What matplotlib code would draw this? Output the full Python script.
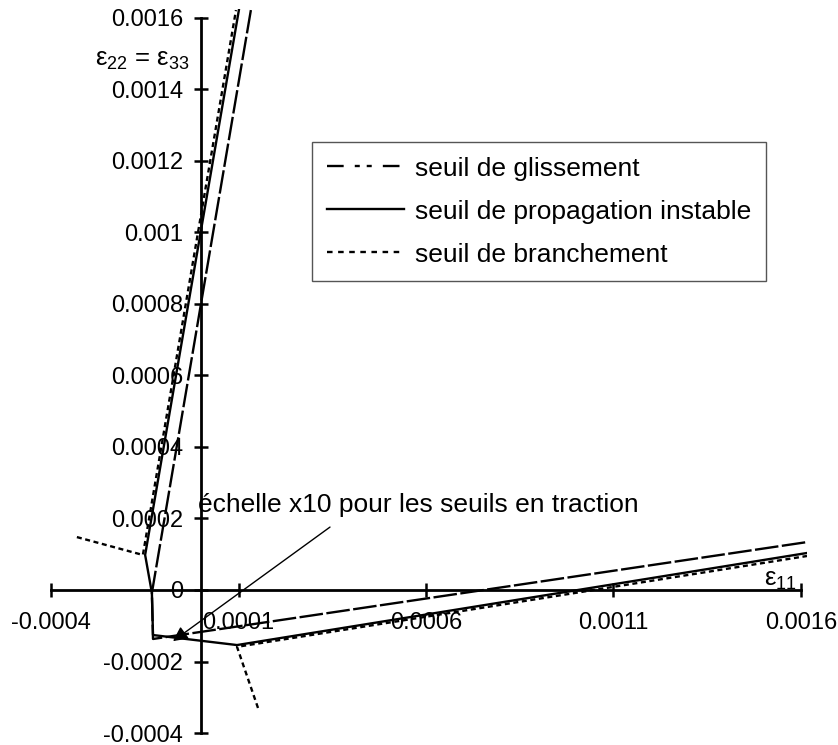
import numpy as np
import matplotlib
matplotlib.use("Agg")
import matplotlib.pyplot as plt
from matplotlib.lines import Line2D

# seuil de propagation instable (trait plein)
prop_x = [0.000101, -0.000149, -0.000131, -0.000128, 0.000096, 0.001616]
prop_y = [0.001622, 0.000098, -0.000008, -0.000126, -0.000154, 0.0001035]

# seuil de branchement (pointillés), deux morceaux séparés par nan
bran_x = [-0.000331, -0.000155, 0.0000933, np.nan, 0.000152, 0.000096, 0.001616]
bran_y = [0.000148, 0.000098, 0.001622, np.nan, -0.00033, -0.000159, 0.0000951]

# seuil de glissement
gliss_x = [0.000133, -0.000131, -0.000128, 0.001616]
gliss_y = [0.001622, -0.000008, -0.000137, 0.000134]

x_ticks = [-0.0004, 0.0001, 0.0006, 0.0011, 0.0016]
x_labels = ["-0.0004", "0.0001", "0.0006", "0.0011", "0.0016"]
y_ticks = [-0.0004, -0.0002, 0, 0.0002, 0.0004, 0.0006, 0.0008, 0.001, 0.0012, 0.0014, 0.0016]
y_labels = ["-0.0004", "-0.0002", "0", "0.0002", "0.0004", "0.0006", "0.0008",
            "0.001", "0.0012", "0.0014", "0.0016"]

series_names = ["seuil de glissement", "seuil de propagation instable", "seuil de branchement"]

plt.rcParams["font.family"] = ["Liberation Sans", "DejaVu Sans"]
plt.rcParams["mathtext.fontset"] = "custom"
plt.rcParams["mathtext.rm"] = "Liberation Sans"
plt.rcParams["mathtext.default"] = "regular"
plt.rcParams["lines.scale_dashes"] = False

fig = plt.figure(figsize=(8.38, 7.45), dpi=100)
ax = fig.add_axes([0.0564, 0.0113, 0.9066, 0.9766])

lw = 1.7
ax.plot(gliss_x, gliss_y, color="black", lw=lw, dashes=(17, 2.5), solid_capstyle="butt")
ax.plot(prop_x, prop_y, color="black", lw=lw)
ax.plot(bran_x, bran_y, color="black", lw=lw, dashes=(3.6, 2.6))

ax.set_xlim(-0.00041, 0.001616)
ax.set_ylim(-0.00041, 0.001625)

# axes qui se croisent en (0, 0)
for side in ["top", "right"]:
    ax.spines[side].set_visible(False)
ax.spines["left"].set_position(("data", 0))
ax.spines["bottom"].set_position(("data", 0))
ax.spines["left"].set_bounds(-0.0004, 0.0016)
ax.spines["bottom"].set_bounds(-0.0004, 0.0016)
ax.spines["left"].set_linewidth(2)
ax.spines["bottom"].set_linewidth(2)

ax.set_xticks(x_ticks)
ax.set_xticklabels(x_labels)
ax.set_yticks(y_ticks)
ax.set_yticklabels(y_labels)
ax.tick_params(direction="inout", length=10, width=1.8, labelsize=17, pad=8)
ax.tick_params(axis="x", pad=11)

ax.text(-0.000029, 0.001483, "ε$_{22}$ = ε$_{33}$", ha="right", va="center", fontsize=18.5)
ax.text(0.00159, 0.000011, "ε$_{11}$", ha="right", va="baseline", fontsize=18.5)

ax.annotate("", xy=(-0.0000747, -0.000143), xytext=(0.000344, 0.000176),
            arrowprops=dict(arrowstyle="-|>", color="black", lw=1,
                            mutation_scale=22, shrinkA=0, shrinkB=0))
ax.text(-0.000008, 0.000218, "échelle x10 pour les seuils en traction",
        ha="left", va="baseline", fontsize=19)

handles = [
    Line2D([], [], color="black", lw=lw, dashes=(12, 8, 3.6, 5, 3.6, 8)),
    Line2D([], [], color="black", lw=lw),
    Line2D([], [], color="black", lw=lw, dashes=(4, 4)),
]
leg = ax.legend(handles, series_names, loc="upper left",
                bbox_to_anchor=(0.3723, 0.8094), bbox_transform=fig.transFigure,
                fontsize=19, fancybox=False, edgecolor="#555555", framealpha=1,
                handlelength=2.95, handletextpad=0.42, borderpad=0.55,
                labelspacing=0.72, borderaxespad=0)
leg.get_frame().set_linewidth(1.0)

fig.savefig("out.png", dpi=100)
